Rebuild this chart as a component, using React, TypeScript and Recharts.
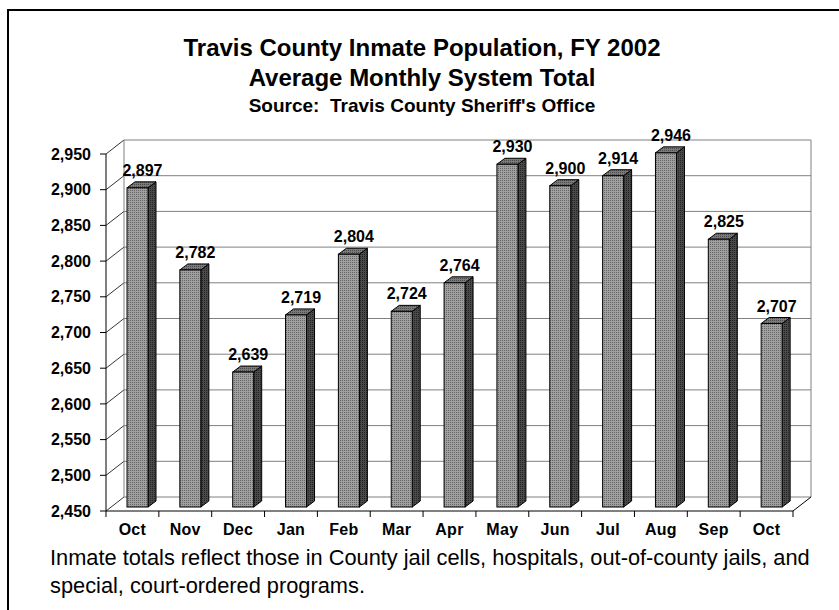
import { BarChart, Bar, XAxis, YAxis, CartesianGrid, LabelList, Customized } from 'recharts';

const categories = ['Oct 2001', 'Nov 2001', 'Dec 2001', 'Jan 2002', 'Feb 2002', 'Mar 2002', 'Apr 2002', 'May 2002', 'Jun 2002', 'Jul 2002', 'Aug 2002', 'Sep 2002', 'Oct 2002'];
const tickLabels = ['Oct', 'Nov', 'Dec', 'Jan', 'Feb', 'Mar', 'Apr', 'May', 'Jun', 'Jul', 'Aug', 'Sep', 'Oct'];
const population = [2897, 2782, 2639, 2719, 2804, 2724, 2764, 2930, 2900, 2914, 2946, 2825, 2707];
const yTicks = [2450, 2500, 2550, 2600, 2650, 2700, 2750, 2800, 2850, 2900, 2950];

const data = categories.map((c, i) => ({ month: c, label: tickLabels[i], total: population[i] }));

const FONT = '"Liberation Sans", Arial, sans-serif';
const W = 839;
const H = 610;
// plot area (front plane)
const PL = 106;
const PR = 793;
const PT = 154;
const PB = 511;
// back wall offset
const WX = 18;
const WY = 14;
const WALL = '#808080';

const fmt = (v: number) => v.toLocaleString('en-US');

function Walls() {
  return (
    <g>
      <defs>
        <pattern id="frontDots" width="2" height="2" patternUnits="userSpaceOnUse">
          <rect width="2" height="2" fill="#a0a0a0" />
          <rect width="1" height="1" fill="#666666" />
        </pattern>
        <pattern id="sideDots" width="2" height="2" patternUnits="userSpaceOnUse">
          <rect width="2" height="2" fill="#4a4a4a" />
          <rect width="1" height="1" fill="#222222" />
        </pattern>
        <pattern id="topDots" width="2" height="2" patternUnits="userSpaceOnUse">
          <rect width="2" height="2" fill="#7a7a7a" />
          <rect width="1" height="1" fill="#4a4a4a" />
        </pattern>
      </defs>
      <line x1={PL + WX} y1={PT - WY} x2={PL + WX} y2={PB - WY} stroke={WALL} />
      <line x1={PR + WX} y1={PT - WY} x2={PR + WX} y2={PB - WY} stroke={WALL} />
      <line x1={PR} y1={PB} x2={PR + WX} y2={PB - WY} stroke="#000" />
    </g>
  );
}

function Titles() {
  return (
    <g fontFamily={FONT} fill="#000">
      <text x={422} y={56} textAnchor="middle" fontSize={24} fontWeight="bold">Travis County Inmate Population, FY 2002</text>
      <text x={422} y={86} textAnchor="middle" fontSize={24} fontWeight="bold">Average Monthly System Total</text>
      <text x={422} y={112} textAnchor="middle" fontSize={19} fontWeight="bold" style={{ whiteSpace: 'pre' }}>Source:  Travis County Sheriff's Office</text>
      <text x={50} y={565} fontSize={21.8}>Inmate totals reflect those in County jail cells, hospitals, out-of-county jails, and</text>
      <text x={50} y={593} fontSize={21.8}>special, court-ordered programs.</text>
    </g>
  );
}

const gridLine = (props: any) => {
  const { x1, y1, x2, index } = props;
  return (
    <g key={`g-${index}`}>
      <line x1={x1 + WX} y1={y1 - WY} x2={x2 + WX} y2={y1 - WY} stroke={WALL} />
      <line x1={x1} y1={y1} x2={x1 + WX} y2={y1 - WY} stroke="#000" strokeWidth={0.8} />
    </g>
  );
};

const Bar3D = (props: any) => {
  const { x, y, width, height } = props;
  const dx = 8;
  const dy = 6;
  const fx = x + 5;
  const fy = y - 4;
  return (
    <g stroke="#000" strokeWidth={1}>
      <polygon
        points={`${fx + width},${fy} ${fx + width + dx},${fy - dy} ${fx + width + dx},${fy + height - dy} ${fx + width},${fy + height}`}
        fill="url(#sideDots)"
      />
      <polygon
        points={`${fx},${fy} ${fx + dx},${fy - dy} ${fx + width + dx},${fy - dy} ${fx + width},${fy}`}
        fill="url(#topDots)"
      />
      <rect x={fx} y={fy} width={width} height={height} fill="url(#frontDots)" />
    </g>
  );
};

const ValueLabel = (props: any) => {
  const { x, y, width, value } = props;
  return (
    <text x={x + width / 2 + 10} y={y - 16} textAnchor="middle" fontFamily={FONT} fontSize={16} fontWeight="bold" fill="#000">
      {fmt(value)}
    </text>
  );
};

const XTick = (props: any) => {
  const { x, payload, index } = props;
  const off = payload && payload.offset ? payload.offset : (PR - PL) / categories.length / 2;
  return (
    <g>
      {index === 0 && <line x1={x - off} y1={PB} x2={x - off} y2={PB + 6} stroke="#000" />}
      <line x1={x + off} y1={PB} x2={x + off} y2={PB + 6} stroke="#000" />
      <text x={x} y={PB + 24} textAnchor="middle" fontFamily={FONT} fontSize={16} fontWeight="bold" fill="#000" letterSpacing={0.3}>
        {tickLabels[index]}
      </text>
    </g>
  );
};

export default function App() {
  return (
    <div style={{ position: 'fixed', left: 0, top: 0, width: W, height: H, overflow: 'hidden', background: '#fff' }}>
      <div style={{ position: 'absolute', left: 7, top: 9, width: W + 20, height: H + 20, borderLeft: '2px solid #000', borderTop: '2px solid #000' }} />
      <div style={{ position: 'absolute', left: 0, top: 0 }}>
        <BarChart width={W} height={H} data={data} margin={{ top: PT, right: W - PR, bottom: H - PB - 30, left: PL - 60 }}>
          <Customized component={Walls} />
          <CartesianGrid vertical={false} horizontal={gridLine} />
          <XAxis
            dataKey="month"
            height={30}
            axisLine={{ stroke: '#000' }}
            tickLine={false}
            interval={0}
            tick={XTick}
          />
          <YAxis
            width={60}
            domain={[2450, 2950]}
            ticks={yTicks}
            tickFormatter={fmt}
            axisLine={{ stroke: '#000' }}
            tickLine={{ stroke: '#000' }}
            tickSize={6}
            tickMargin={9}
            tick={{ fontFamily: FONT, fontSize: 16, fontWeight: 'bold', fill: '#000' }}
          />
          <Bar dataKey="total" barSize={21} shape={Bar3D} isAnimationActive={false}>
            <LabelList dataKey="total" content={ValueLabel} />
          </Bar>
          <Customized component={Titles} />
        </BarChart>
      </div>
    </div>
  );
}
